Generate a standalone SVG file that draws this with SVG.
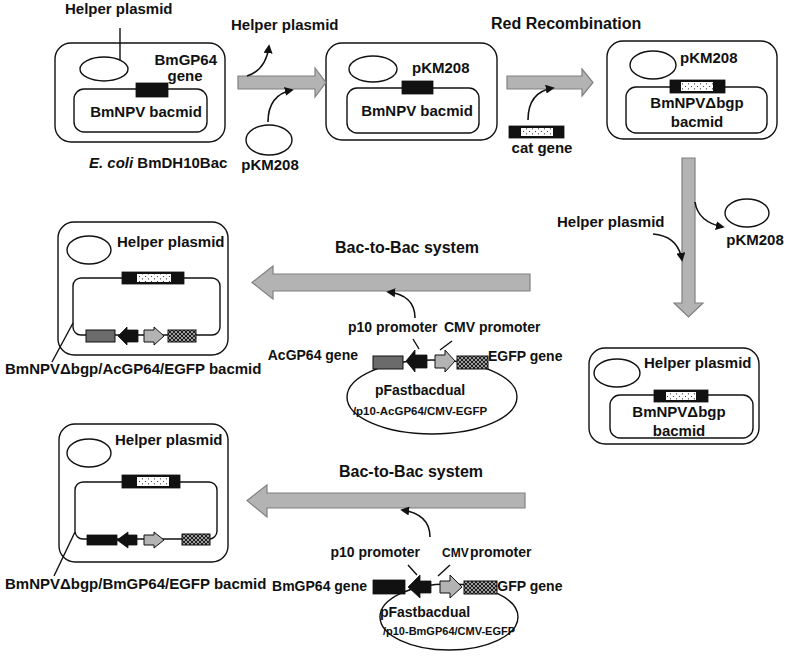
<svg xmlns="http://www.w3.org/2000/svg" width="787" height="660" viewBox="0 0 787 660">
<style>
text{font-family:"Liberation Sans",Arial,sans-serif;font-weight:bold;font-size:15px;fill:#111}
.h{font-size:16px}
.s{font-size:14px}
.xs{font-size:11.5px}
.box{fill:#fff;stroke:#111;stroke-width:1.4}
.ln{fill:none;stroke:#111;stroke-width:1.4}
.ga{fill:#b3b3b3;stroke:#808080;stroke-width:1.2}
.cv{fill:none;stroke:#111;stroke-width:1.6}
.blk{fill:#111;stroke:#111;stroke-width:0.8}
.lg{fill:#b3b3b3;stroke:#111;stroke-width:1}
.dg{fill:#6b6b6b;stroke:#111;stroke-width:1}
.hx{fill:url(#hatch);stroke:#111;stroke-width:1}
.dt{fill:url(#dots)}
</style>
<defs>
<marker id="ah" viewBox="0 0 10 10" refX="8" refY="5" markerWidth="9" markerHeight="9" markerUnits="userSpaceOnUse" orient="auto"><path d="M0,0 L10,5 L0,10 z" fill="#111"/></marker>
<pattern id="dots" width="6" height="5" patternUnits="userSpaceOnUse"><rect width="6" height="5" fill="#fff"/><circle cx="1.5" cy="1.5" r="0.6" fill="#222"/><circle cx="4.5" cy="3.8" r="0.6" fill="#222"/></pattern>
<pattern id="hatch" width="4" height="4" patternUnits="userSpaceOnUse"><rect width="4" height="4" fill="#222"/><path d="M0,0 L4,4 M4,0 L0,4" stroke="#eee" stroke-width="0.6"/></pattern>
</defs>

<g id="panel1">
<rect class="box" x="55" y="43" width="170" height="99" rx="16"/>
<ellipse class="box" cx="104" cy="69" rx="24" ry="12"/>
<rect class="box" x="74" y="89" width="133" height="43" rx="10"/>
<rect class="blk" x="136" y="83" width="32" height="14"/>
<line class="ln" x1="120" y1="28" x2="120" y2="60"/>
<text x="65" y="14">Helper plasmid</text>
<text x="217" y="65" text-anchor="end">BmGP64</text>
<text x="185" y="81" text-anchor="middle">gene</text>
<text x="146" y="117" text-anchor="middle">BmNPV bacmid</text>
<text x="89" y="168"><tspan font-style="italic">E. coli</tspan> BmDH10Bac</text>
</g>

<g id="helper-out">
<text x="231" y="30">Helper plasmid</text>
</g>

<g id="pkm208-in">
<ellipse class="box" cx="269" cy="140" rx="23" ry="15"/>
<text x="270" y="170" text-anchor="middle">pKM208</text>
</g>

<g id="panel2">
<rect class="box" x="326" y="43" width="171" height="97" rx="16"/>
<ellipse class="box" cx="373" cy="69" rx="24" ry="13"/>
<rect class="box" x="347" y="88" width="132" height="45" rx="10"/>
<rect class="blk" x="402" y="81" width="31" height="13"/>
<text x="412" y="73">pKM208</text>
<text x="417" y="116" text-anchor="middle">BmNPV bacmid</text>
</g>

<g id="redrec-label">
<text class="h" x="491" y="29">Red Recombination</text>
</g>

<g id="catgene">
<rect class="blk" x="509" y="126" width="55" height="12"/>
<rect class="dt" x="521" y="128" width="32" height="8"/>
<text x="542" y="153" text-anchor="middle">cat gene</text>
</g>

<g id="panel3">
<rect class="box" x="607" y="41" width="170" height="98" rx="16"/>
<ellipse class="box" cx="653" cy="65" rx="23" ry="14"/>
<rect class="box" x="626" y="87" width="141" height="46" rx="10"/>
<rect class="blk" x="670" y="80" width="55" height="13"/>
<rect class="dt" x="681" y="82" width="32" height="9"/>
<text x="680" y="63">pKM208</text>
<text x="697" y="108" text-anchor="middle">BmNPVΔbgp</text>
<text x="697" y="127" text-anchor="middle">bacmid</text>
</g>

<g id="helper-in">
<text x="557" y="227">Helper plasmid</text>
</g>

<g id="pkm208-out">
<ellipse class="box" cx="747" cy="213" rx="22" ry="14"/>
<text x="755" y="245" text-anchor="middle">pKM208</text>
</g>

<g id="panel4">
<rect class="box" x="589" y="348" width="170" height="96" rx="16"/>
<ellipse class="box" cx="617" cy="373" rx="23" ry="14"/>
<rect class="box" x="610" y="395" width="143" height="43" rx="10"/>
<rect class="blk" x="654" y="390" width="54" height="12"/>
<rect class="dt" x="666" y="392" width="30" height="8"/>
<text x="644" y="368">Helper plasmid</text>
<text x="679" y="417" text-anchor="middle">BmNPVΔbgp</text>
<text x="679" y="436" text-anchor="middle">bacmid</text>
</g>

<g id="panel5">
<rect class="box" x="58" y="222" width="170" height="133" rx="16"/>
<ellipse class="box" cx="89" cy="250" rx="22" ry="14"/>
<rect class="box" x="73" y="278" width="147" height="57" rx="8"/>
<rect class="blk" x="122" y="272" width="62" height="12"/>
<rect class="dt" x="137" y="274" width="34" height="8"/>
<rect class="dg" x="86" y="330" width="29" height="12"/>
<polygon class="blk" points="118,336 127,327 127,330 138,330 138,342 127,342 127,345"/>
<polygon class="lg" points="144,330 154,330 154,327 164,336 154,345 154,342 144,342"/>
<rect class="hx" x="168" y="330" width="28" height="12"/>
<text x="117" y="247">Helper plasmid</text>
<line class="ln" x1="73" y1="323" x2="52" y2="362"/>
<text x="5" y="374">BmNPVΔbgp/AcGP64/EGFP bacmid</text>
</g>

<g id="pfast1">
<ellipse class="box" cx="432" cy="397" rx="85" ry="37"/>
<rect class="dg" x="373" y="356" width="30" height="13"/>
<polygon class="blk" points="406,361 415,350 415,355 427,355 427,368 415,368 415,372"/>
<polygon class="lg" points="435,355 445,355 445,350 455,361 445,372 445,368 435,368"/>
<rect class="hx" x="457" y="356" width="31" height="13"/>
<line class="ln" x1="413" y1="339" x2="419" y2="349"/>
<line class="ln" x1="452" y1="341" x2="440" y2="350"/>
<text class="s" x="348" y="332">p10 promoter</text>
<text class="s" x="444" y="332">CMV promoter</text>
<text class="s" x="358" y="360" text-anchor="end">AcGP64 gene</text>
<text class="s" x="488" y="361">EGFP gene</text>
<text class="s" x="420" y="395" text-anchor="middle">pFastbacdual</text>
<text class="xs" x="420" y="415" text-anchor="middle">/p10-AcGP64/CMV-EGFP</text>
</g>

<g id="bac1-label">
<text class="h" x="335" y="253">Bac-to-Bac system</text>
</g>

<g id="panel6">
<rect class="box" x="59" y="424" width="169" height="138" rx="16"/>
<ellipse class="box" cx="89" cy="453" rx="22" ry="14"/>
<rect class="box" x="75" y="482" width="142" height="57" rx="8"/>
<rect class="blk" x="122" y="475" width="58" height="13"/>
<rect class="dt" x="137" y="477" width="32" height="9"/>
<rect class="blk" x="87" y="535" width="30" height="10"/>
<polygon class="blk" points="117,540 128,532 128,535 137,535 137,545 128,545 128,548"/>
<polygon class="lg" points="144,535 154,535 154,532 164,540 154,548 154,545 144,545"/>
<rect class="hx" x="182" y="534" width="28" height="11"/>
<text x="115" y="445">Helper plasmid</text>
<line class="ln" x1="75" y1="532" x2="54" y2="576"/>
<text x="5" y="589">BmNPVΔbgp/BmGP64/EGFP bacmid</text>
</g>

<g id="pfast2">
<ellipse class="box" cx="449" cy="617" rx="69" ry="33"/>
<text class="s" x="488" y="591">EGFP gene</text>
<rect class="blk" x="373" y="580" width="32" height="14"/>
<polygon class="blk" points="408,587 420,575 420,581 431,581 431,593 420,593 420,598"/>
<polygon class="lg" points="440,581 450,581 450,575 462,587 450,598 450,593 440,593"/>
<rect class="hx" x="464" y="581" width="33" height="13"/>
<line class="ln" x1="408" y1="565" x2="417" y2="575"/>
<line class="ln" x1="450" y1="565" x2="438" y2="576"/>
<text class="s" x="420" y="557" text-anchor="end">p10 promoter</text>
<text x="442" y="557" style="font-size:12px">CMV</text>
<text class="s" x="470" y="557">promoter</text>
<text class="s" x="367" y="591" text-anchor="end">BmGP64 gene</text>
<text class="s" x="425" y="617" text-anchor="middle">pFastbacdual</text>
<text x="449" y="635" text-anchor="middle" style="font-size:11px">/p10-BmGP64/CMV-EGFP</text>
</g>

<g id="bac2-label">
<text class="h" x="339" y="477">Bac-to-Bac system</text>
</g>

<g id="connectors">
<polygon class="ga" points="238,76 315,76 315,68 326,82.5 315,97 315,89 238,89"/>
<polygon class="ga" points="507,76 582,76 582,69 593,82.5 582,96 582,89 507,89"/>
<polygon class="ga" points="682,158 695,158 695,303 703,303 688.5,317 674,303 682,303"/>
<polygon class="ga" points="530,274 273,274 273,266 252,282.5 273,299 273,291 530,291"/>
<polygon class="ga" points="525,493 267,493 267,485 247,500.5 267,517 267,508 525,508"/>
<path class="cv" d="M247,76 Q266,70 269,46" marker-end="url(#ah)"/>
<path class="cv" d="M268,122 Q268,95 292,90" marker-end="url(#ah)"/>
<path class="cv" d="M528,120 Q528,92 553,88" marker-end="url(#ah)"/>
<path class="cv" d="M653,234 Q678,236 682,260" marker-end="url(#ah)"/>
<path class="cv" d="M695,202 Q698,222 723,227" marker-end="url(#ah)"/>
<path class="cv" d="M415,318 Q415,295 388,292" marker-end="url(#ah)"/>
<path class="cv" d="M430,537 Q430,514 402,510" marker-end="url(#ah)"/>
</g>
</svg>
